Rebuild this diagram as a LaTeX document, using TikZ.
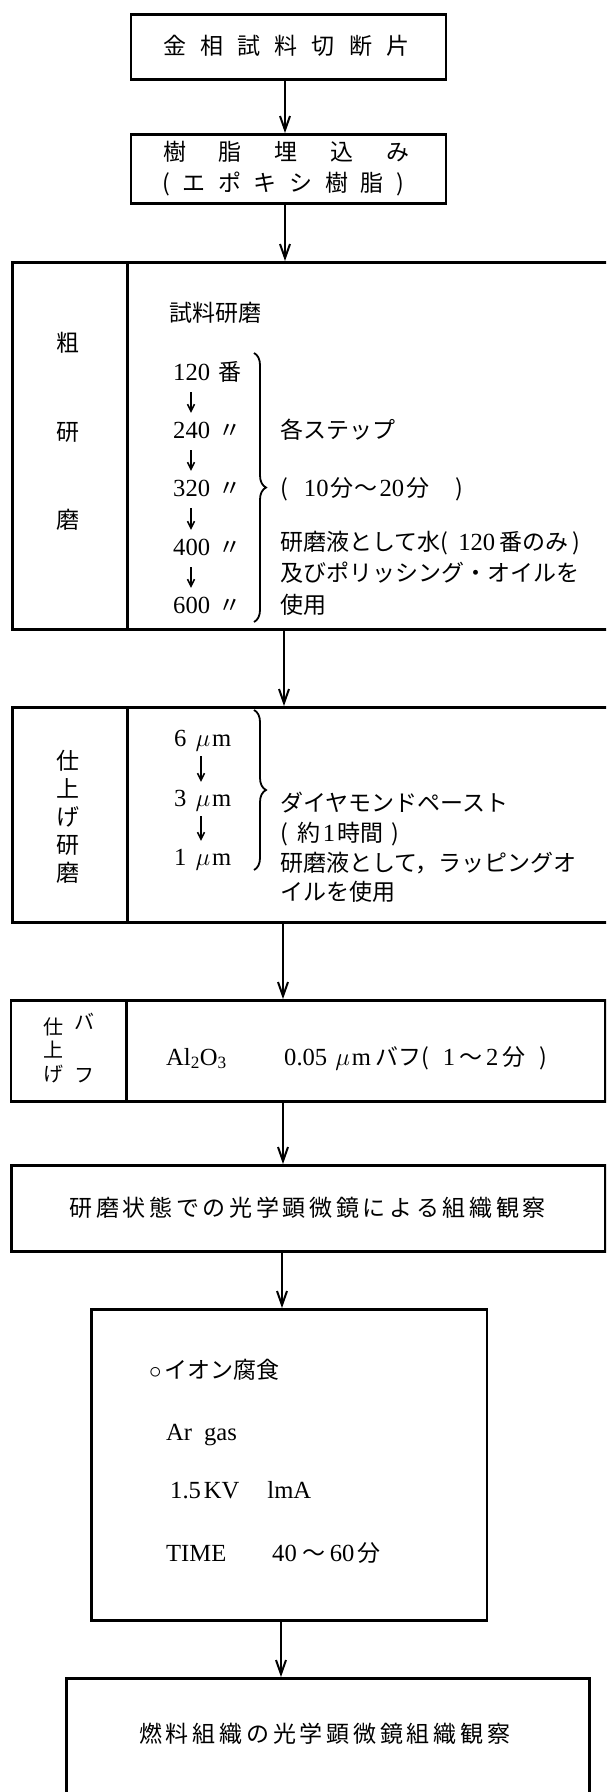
\documentclass[tikz,border=0pt]{standalone}
\usepackage{fontspec}
\setmainfont[Scale=1.07]{Liberation Serif}
\newfontfamily\jp{Noto Sans CJK JP}
\usetikzlibrary{arrows.meta,decorations.pathreplacing}
\newcommand\spreadtxt[2]{\hbox to #1{\hskip 0pt plus -1fil\spreadloop#2\relax}}
\def\spreadloop#1{\ifx#1\relax\else\hfil#1\expandafter\spreadloop\fi}
\newcommand\fs{\fontsize{23pt}{27pt}\selectfont}
\newcommand\fss{\fontsize{20pt}{24pt}\selectfont}
\begin{document}
\begin{tikzpicture}[x=1pt,y=-1pt,
  box/.style={draw, line width=2.6pt, inner sep=0pt, anchor=north west},
  divline/.style={line width=2.2pt},
  lbl/.style={inner sep=0pt, anchor=west, text height=16pt, text depth=0pt, font=\fs},
  jlbl/.style={lbl, font=\fs\jp},
  vch/.style={inner sep=0pt, anchor=center, text height=16pt, text depth=0pt, font=\fs\jp},
  vchs/.style={inner sep=0pt, anchor=center, text height=14pt, text depth=0pt, font=\fss\jp},
  arr/.style={line width=2.2pt, -{Straight Barb[length=14pt,width=10pt,line width=2pt]}},
  sarr/.style={line width=1.5pt, -{Straight Barb[length=7pt,width=7pt,line width=1.5pt]}},
  brc/.style={line width=1.8pt, decorate, decoration={brace, amplitude=12pt}}]
\useasboundingbox (0,0) rectangle (606,1792);
\clip (0,0) rectangle (606,1792);
\fill[white] (0,0) rectangle (606,1792);

% boxes
\node[box, minimum width=315pt, minimum height=65pt] (b1) at (129.5,13) {};
\node[box, minimum width=315pt, minimum height=69pt] (b2) at (129.5,133) {};
\node[box, minimum width=609pt, minimum height=367pt] (b3) at (11,261) {};
\node[box, minimum width=609pt, minimum height=215pt] (b4) at (11,706) {};
\node[box, minimum width=594.5pt, minimum height=101pt] (b5) at (9.5,999) {};
\node[box, minimum width=594pt, minimum height=86pt] (b6) at (10,1164) {};
\node[box, minimum width=395.5pt, minimum height=311pt] (b7) at (90,1308) {};
\node[box, minimum width=523pt, minimum height=200pt] (b8) at (65,1677) {};

% dividers
\coordinate (d3) at (127.5,0);
\coordinate (d4) at (127.5,0);
\coordinate (d5) at (126.5,0);
\draw[divline] (b3.north -| d3) -- (b3.south -| d3);
\draw[divline] (b4.north -| d4) -- (b4.south -| d4);
\draw[divline] (b5.north -| d5) -- (b5.south -| d5);

% main arrows
\coordinate (ax1) at (285,0);
\coordinate (ax2) at (285,0);
\coordinate (ax3) at (284,0);
\coordinate (ax4) at (283,0);
\coordinate (ax5) at (283,0);
\coordinate (ax6) at (282,0);
\coordinate (ax7) at (281,0);
\draw[arr] (b1.south -| ax1) -- (b2.north -| ax1);
\draw[arr] (b2.south -| ax2) -- (b3.north -| ax2);
\draw[arr] (b3.south -| ax3) -- (b4.north -| ax3);
\draw[arr] (b4.south -| ax4) -- (b5.north -| ax4);
\draw[arr] (b5.south -| ax5) -- (b6.north -| ax5);
\draw[arr] (b6.south -| ax6) -- (b7.north -| ax6);
\draw[arr] (b7.south -| ax7) -- (b8.north -| ax7);

% box 1, 2
\node[jlbl] (t1) at (163,46) {\spreadtxt{246pt}{金相試料切断片}};
\node[jlbl] (t2a) at (163,152) {\spreadtxt{246pt}{樹脂埋込み}};
\node[jlbl] (t2b) at (162,183) {\spreadtxt{242pt}{(エポキシ樹脂)}};

% box 3
\node[vch] (k1) at (67.5,343) {粗};
\node[vch] (k2) at (67.5,432) {研};
\node[vch] (k3) at (67.5,520) {磨};
\node[jlbl] (s0) at (169,313) {試料研磨};
\node[lbl] (n120) at (173,372) {120\hspace{8pt}{\jp 番}};
\node[lbl] (n240) at (173,430) {240\hspace{8pt}{\jp 〃}};
\node[lbl] (n320) at (173,488) {320\hspace{8pt}{\jp 〃}};
\node[lbl] (n400) at (173,547) {400\hspace{8pt}{\jp 〃}};
\node[lbl] (n600) at (173,605) {600\hspace{8pt}{\jp 〃}};
\coordinate (sx3) at (191,0);
\draw[sarr, shorten <=12pt, shorten >=9pt] (n120.south -| sx3) -- (n240.north -| sx3);
\draw[sarr, shorten <=12pt, shorten >=9pt] (n240.south -| sx3) -- (n320.north -| sx3);
\draw[sarr, shorten <=12pt, shorten >=9pt] (n320.south -| sx3) -- (n400.north -| sx3);
\draw[sarr, shorten <=12pt, shorten >=9pt] (n400.south -| sx3) -- (n600.north -| sx3);
\coordinate (br3a) at (254,353);
\coordinate (br3b) at (254,622);
\draw[brc] (br3a) -- (br3b);
\node[jlbl] (c1) at (280,430) {各ステップ};
\node[lbl] (c2) at (280,488) {{\jp (}\hspace{16pt}10\hspace{2pt}{\jp 分}\hspace{1pt}{\jp 〜}\hspace{2pt}20\hspace{2pt}{\jp 分}\hspace{26pt}{\jp )}};
\node[lbl] (c3) at (280,542) {{\jp 研磨液として水(}\hspace{10pt}120\hspace{4pt}{\jp 番のみ}\hspace{4pt}{\jp )}};
\node[jlbl] (c4) at (280,573) {及びポリッシング・オイルを};
\node[jlbl] (c5) at (280,605) {使用};

% box 4
\node[inner sep=0pt, align=center, font=\fontsize{23pt}{28pt}\selectfont\jp] (k4) at (67.5,816.5) {仕\\上\\げ\\研\\磨};
\node[lbl] (m6) at (174,738) {6\hspace{9pt}$\mu$\hspace{2pt}m};
\node[lbl] (m3) at (174,798) {3\hspace{9pt}$\mu$\hspace{2pt}m};
\node[lbl] (m1) at (174,857) {1\hspace{9pt}$\mu$\hspace{2pt}m};
\coordinate (sx4) at (201,0);
\draw[sarr, shorten <=10pt, shorten >=8pt] (m6.south -| sx4) -- (m3.north -| sx4);
\draw[sarr, shorten <=10pt, shorten >=8pt] (m3.south -| sx4) -- (m1.north -| sx4);
\coordinate (br4a) at (254,710);
\coordinate (br4b) at (254,870);
\draw[brc] (br4a) -- (br4b);
\node[jlbl] (e1) at (280,803) {ダイヤモンドペースト};
\node[lbl] (e2) at (280,833) {{\jp (}\hspace{10pt}{\jp 約}\hspace{2pt}1\hspace{2pt}{\jp 時間}\hspace{8pt}{\jp )}};
\node[jlbl] (e3) at (280,863) {研磨液として，ラッピングオ};
\node[jlbl] (e4) at (280,892) {イルを使用};

% box 5
\node[vchs] (f1) at (53,1027) {仕};
\node[vchs] (f2) at (53,1050) {上};
\node[vchs] (f3) at (53,1074) {げ};
\node[vchs] (f4) at (84,1022) {バ};
\node[vchs] (f5) at (84,1075) {フ};
\node[lbl] (g1) at (166,1057) {Al\textsubscript{2}O\textsubscript{3}};
\node[lbl] (g2) at (284,1057) {0.05\hspace{8pt}$\mu$\hspace{2pt}m\hspace{4pt}{\jp バフ(}\hspace{14pt}1\hspace{4pt}{\jp 〜}\hspace{4pt}2\hspace{4pt}{\jp 分}\hspace{14pt}{\jp )}};

% box 6
\node[jlbl] (h1) at (69.5,1208) {\spreadtxt{476pt}{研磨状態での光学顕微鏡による組織観察}};

% box 7
\node[lbl] (p1) at (149,1370) {$\circ$\hspace{3pt}{\jp イオン腐食}};
\node[lbl] (p2) at (166,1432) {Ar\hspace{12pt}gas};
\node[lbl] (p3) at (170,1490) {1.5\hspace{3pt}KV\hspace{28pt}lmA};
\node[lbl] (p4) at (166,1553) {TIME};
\node[lbl] (p5) at (272,1553) {40\hspace{6pt}{\jp 〜}\hspace{4pt}60\hspace{3pt}{\jp 分}};

% box 8
\node[jlbl] (q1) at (139,1734) {\spreadtxt{371pt}{燃料組織の光学顕微鏡組織観察}};
\end{tikzpicture}
\end{document}
